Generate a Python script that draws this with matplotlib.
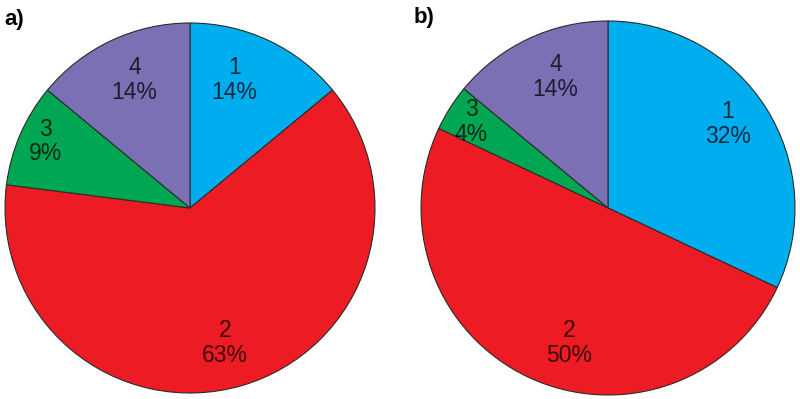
import matplotlib.pyplot as plt
from matplotlib import font_manager

# slice values (percent), clockwise from 12 o'clock
slice_names = ["1", "2", "3", "4"]
values_a = [14, 63, 9, 14]
values_b = [32, 50, 4, 14]
slice_colors = ["#00AEEF", "#ED1C24", "#00A651", "#7B70B4"]

# label centres in pie units (radius = 1)
label_pos_a = [(0.24, 0.69), (0.19, -0.73), (-0.78, 0.36), (-0.30, 0.69)]
label_pos_b = [(0.64, 0.45), (-0.21, -0.72), (-0.73, 0.46), (-0.28, 0.70)]

names = {f.name for f in font_manager.fontManager.ttflist}
label_font = "Liberation Sans Narrow" if "Liberation Sans Narrow" in names else "Liberation Sans"

W, H = 800, 399
fig = plt.figure(figsize=(W / 100, H / 100), dpi=100)


def draw_pie(cx, cy, r, values, label_pos):
    ax = fig.add_axes([(cx - r) / W, (H - cy - r) / H, 2 * r / W, 2 * r / H])
    ax.pie(values, colors=slice_colors, startangle=90, counterclock=False,
           radius=1, wedgeprops=dict(edgecolor="#2b2b2b", linewidth=0.8))
    for name, val, (x, y) in zip(slice_names, values, label_pos):
        ax.text(x, y, f"{name}\n{val}%", ha="center", va="center",
                fontsize=16.5, family=label_font, color="black", alpha=0.75,
                linespacing=1.1)
    ax.set_xlim(-1, 1)
    ax.set_ylim(-1, 1)
    ax.set_aspect("auto")
    ax.axis("off")


draw_pie(190, 208, 185, values_a, label_pos_a)
draw_pie(608, 208, 187, values_b, label_pos_b)

fig.text(4 / W, 1 - 19 / H, "a)", fontsize=16, fontweight="bold",
         family="Liberation Sans", va="center", ha="left")
fig.text(414 / W, 1 - 18 / H, "b)", fontsize=16, fontweight="bold",
         family="Liberation Sans", va="center", ha="left")

fig.savefig("out.png", dpi=100, facecolor="white")
